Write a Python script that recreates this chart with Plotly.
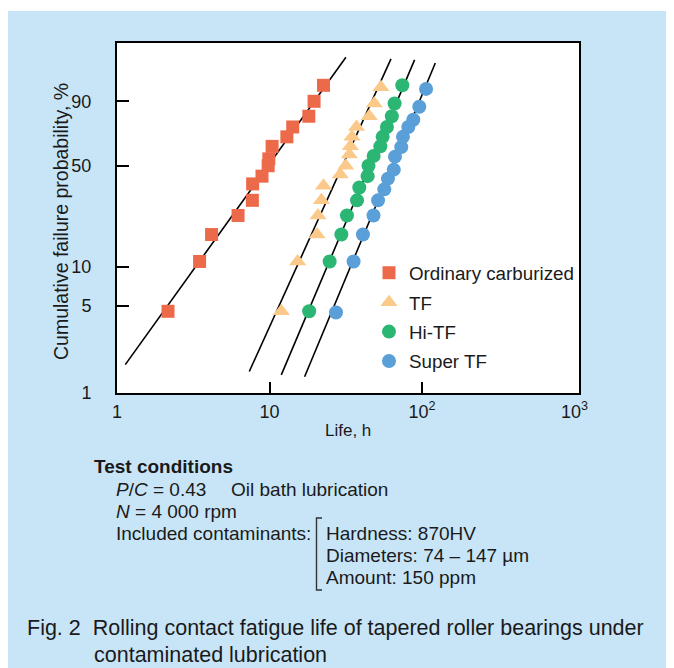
import numpy as np
import plotly.graph_objects as go

# ---------------- data ----------------
series_names = ["Ordinary carburized", "TF", "Hi-TF", "Super TF"]

ordinary_life = [2.16, 3.48, 4.17, 6.22, 7.72, 7.75, 8.93, 9.8, 9.9, 10.4, 13.0, 14.2, 18.1, 19.6, 22.6]
ordinary_pct = [4.5, 11.0, 17.5, 24.0, 30.5, 39.0, 43.5, 50.0, 54.5, 63.0, 69.5, 76.0, 82.5, 90.0, 95.5]

tf_life = [11.95, 15.3, 20.5, 20.8, 21.9, 22.6, 29.1, 31.6, 33.4, 33.9, 34.8, 37.2, 45.1, 48.7, 53.8]
tf_pct = [4.5, 11.0, 17.5, 24.0, 30.5, 38.0, 44.5, 50.0, 57.5, 63.0, 69.5, 76.0, 82.5, 89.0, 95.0]

hitf_life = [18.2, 24.8, 29.6, 32.2, 37.5, 38.8, 44.0, 44.6, 48.2, 53.3, 55.2, 58.9, 63.4, 66.1, 74.3]
hitf_pct = [4.5, 11.0, 17.5, 24.0, 30.5, 37.0, 43.5, 50.0, 56.5, 63.0, 69.5, 76.0, 82.5, 89.0, 95.5]

super_life = [27.3, 35.6, 41.0, 48.1, 51.5, 56.6, 59.8, 65.3, 66.5, 73.1, 75.0, 81.3, 87.7, 96.0, 106.3]
super_pct = [4.4, 11.0, 17.5, 24.0, 30.5, 36.0, 42.0, 47.5, 56.0, 62.5, 69.5, 76.0, 80.5, 87.5, 94.5]

# fitted Weibull lines (end points)
ordinary_fit_life = [1.133, 31.7]
ordinary_fit_pct = [1.69, 99.46]
tf_fit_life = [7.37, 62.6]
tf_fit_pct = [1.49, 99.37]
hitf_fit_life = [11.95, 89.4]
hitf_fit_pct = [1.40, 99.31]
super_fit_life = [16.99, 122.3]
super_fit_pct = [1.35, 99.09]

y_tick_pct = [1, 5, 10, 50, 90]
x_tick_vals = [1, 10, 100, 1000]
x_tick_text = ["1", "10", "10<sup>2</sup>", "10<sup>3</sup>"]
x_mark_vals = [10, 100]

# ---------------- styling ----------------
FONT = "Liberation Sans, Arial, Helvetica, sans-serif"
TXT = "#1a1a1a"
BLUE_BG = "#c8e5f8"
colors = ["#ec6a4a", "#fbca8a", "#2bb673", "#5a9fd7"]
symbols = ["square", "triangle-up", "circle", "circle"]
sizes = [13, 15, 14, 14]

OFF = 8                      # page offset of the figure (body margin)
W, H = 674 - OFF, 668 - OFF
ML, MT = 117 - OFF, 43 - OFF
PW, PH = 462, 350
MR = W - ML - PW
MB = H - MT - PH
Y0_PAGE = MT + PH + OFF      # page y of the bottom of the plot area


def weibull(p):
    p = np.asarray(p, dtype=float) / 100.0
    return np.log(-np.log(1.0 - p))


def px2x(px):                # page x -> paper x
    return (px - OFF - ML) / PW


def py2y(py):                # page y -> paper y
    return (Y0_PAGE - py) / PH


fig = go.Figure()

fits = [(ordinary_fit_life, ordinary_fit_pct), (tf_fit_life, tf_fit_pct),
        (hitf_fit_life, hitf_fit_pct), (super_fit_life, super_fit_pct)]
for fl, fp in fits:
    fig.add_trace(go.Scatter(x=fl, y=weibull(fp), mode="lines",
                             line=dict(color="black", width=1.6),
                             showlegend=False, hoverinfo="skip"))

pts = [(ordinary_life, ordinary_pct), (tf_life, tf_pct),
       (hitf_life, hitf_pct), (super_life, super_pct)]
for i, (lf, pc) in enumerate(pts):
    fig.add_trace(go.Scatter(x=lf, y=weibull(pc), mode="markers", name=series_names[i],
                             legendgroup=series_names[i],
                             marker=dict(symbol=symbols[i], size=sizes[i], color=colors[i],
                                         line=dict(width=0))))

# invisible trace on the label axis so it is drawn
fig.add_trace(go.Scatter(x=super_fit_life, y=weibull(super_fit_pct), xaxis="x2",
                         mode="lines", line=dict(width=0), opacity=0,
                         showlegend=False, hoverinfo="skip"))

y_lo = weibull([1])[0]
y_hi = y_lo + PH / 53.68
x_hi = PW / 152.5

fig.update_layout(
    width=W, height=H,
    margin=dict(l=ML, r=MR, t=MT, b=MB),
    paper_bgcolor=BLUE_BG, plot_bgcolor="white",
    font=dict(family=FONT, color=TXT, size=18),
    showlegend=True,
    legend=dict(x=px2x(369), y=py2y(254), xanchor="left", yanchor="top",
                bgcolor="rgba(0,0,0,0)", font=dict(size=18.8, color=TXT),
                traceorder="grouped", tracegroupgap=2, itemclick=False),
    xaxis=dict(type="log", range=[0, x_hi], showline=True, linecolor="black",
               linewidth=2, mirror=True, showgrid=False, zeroline=False,
               tickvals=x_mark_vals, ticks="inside", ticklen=11, tickwidth=1.5,
               tickcolor="black", showticklabels=False),
    xaxis2=dict(type="log", range=[0, x_hi], overlaying="x", side="bottom",
                anchor="y", showline=False, showgrid=False, zeroline=False,
                tickvals=x_tick_vals, ticktext=x_tick_text, ticks="",
                tickfont=dict(size=18, color=TXT), ticklabelstandoff=6),
    yaxis=dict(range=[y_lo, y_hi], showline=True, linecolor="black", linewidth=2,
               mirror=True, showgrid=False, zeroline=False,
               tickvals=list(weibull(y_tick_pct)), ticktext=[str(v) for v in y_tick_pct],
               ticks="inside", ticklen=12, tickwidth=1.5, tickcolor="black",
               tickfont=dict(size=18, color=TXT), ticklabelstandoff=20),
)

# thin white strip at the top of the picture
fig.add_shape(type="rect", xref="paper", yref="paper", x0=px2x(0), x1=px2x(680),
              y0=py2y(11), y1=py2y(0), fillcolor="white", line=dict(width=0), layer="below")

ann = []


def add_text(px, py, text, size=18, xanchor="left", angle=0):
    ann.append(dict(xref="paper", yref="paper", x=px2x(px), y=py2y(py), text=text,
                    showarrow=False, xanchor=xanchor, yanchor="middle", textangle=angle,
                    font=dict(size=size, color=TXT, family=FONT)))


add_text(61, 222, "Cumulative failure probability, %", size=19.5, xanchor="center", angle=-90)
add_text(348, 430, "Life, h", size=17, xanchor="center")

add_text(92, 466, "<b>Test conditions</b>", size=19)
add_text(114, 489, "<i>P</i>/<i>C</i> = 0.43", size=19)
add_text(229, 489, "Oil bath lubrication", size=19)
add_text(114, 511, "<i>N</i> = 4 000 rpm", size=19)
add_text(114, 533, "Included contaminants:", size=19)
add_text(324, 533, "Hardness: 870HV", size=19)
add_text(324, 555, "Diameters: 74 \u2013 147 \u00b5m", size=19)
add_text(324, 577, "Amount: 150 ppm", size=19)
add_text(25, 628, "Fig. 2  Rolling contact fatigue life of tapered roller bearings under", size=21.5)
add_text(92, 655, "contaminated lubrication", size=21.5)

fig.update_layout(annotations=ann)

# bracket next to the contaminant list
fig.add_shape(type="path", xref="paper", yref="paper",
              path="M {a},{b} L {c},{b} L {c},{d} L {a},{d}".format(
                  a=px2x(322), b=py2y(518), c=px2x(316.5), d=py2y(590)),
              line=dict(color="#333333", width=1.4))

fig.write_html("out.html")
